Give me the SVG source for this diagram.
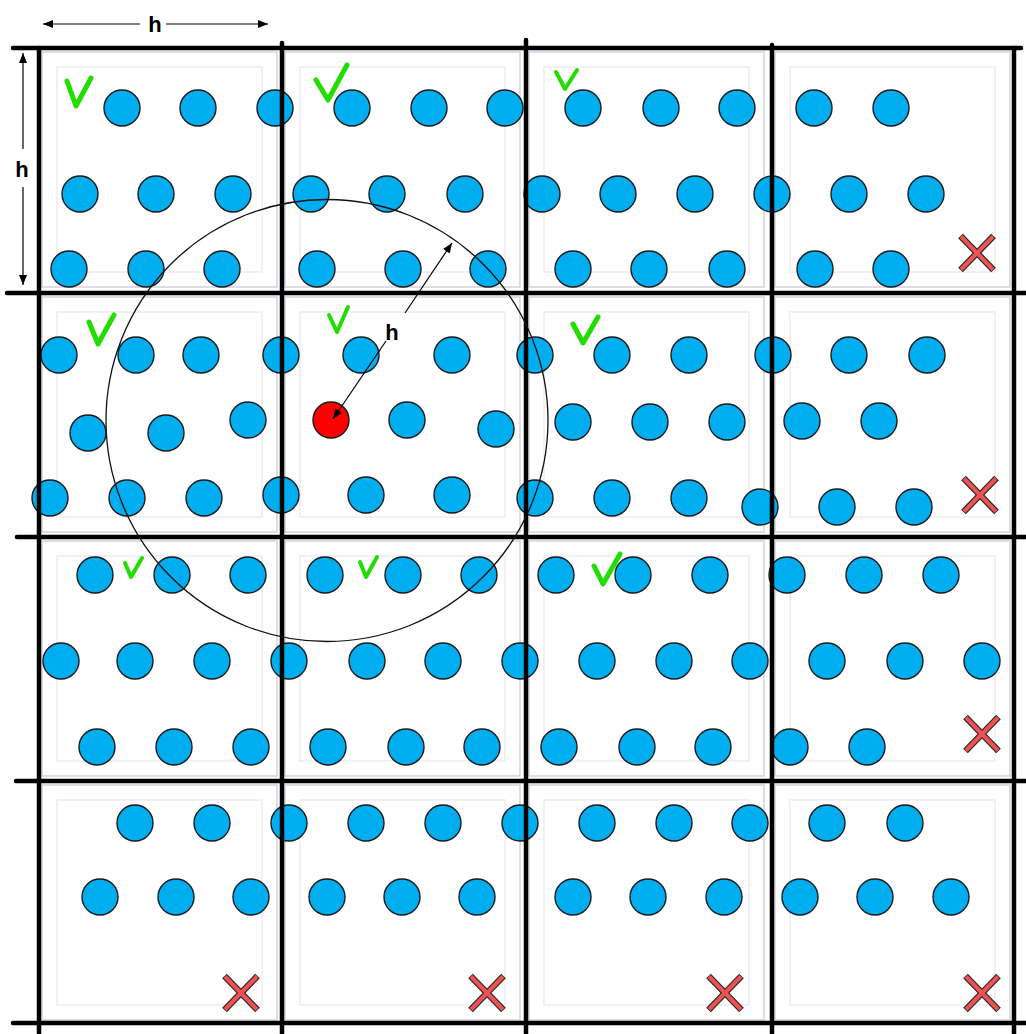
<svg xmlns="http://www.w3.org/2000/svg" xmlns:xlink="http://www.w3.org/1999/xlink" width="1026" height="1034" viewBox="0 0 1026 1034">
<style>
.cell{fill:none;stroke:#d2d2da;stroke-width:1.5}
.inner{fill:none;stroke:#ececf2;stroke-width:1.5}
.p{fill:#00aeef;stroke:#1a1a1a;stroke-width:1.4}
.red{fill:#ff0000;stroke:#1a1a1a;stroke-width:1.4}
.grid{stroke:#000;stroke-width:4.5;stroke-linecap:round;fill:none}
.ring{fill:none;stroke:#111;stroke-width:1.3}
.dim{stroke:#000;stroke-width:1.2;fill:none}
.chk{fill:none;stroke:#22dd00;stroke-width:5;stroke-linecap:round;stroke-linejoin:round}
.chks{fill:none;stroke:#22dd00;stroke-width:4;stroke-linecap:round;stroke-linejoin:round}
.lbl{font-family:"Liberation Sans",Arial,sans-serif;font-weight:bold;font-size:22px;fill:#000;text-anchor:middle}
.xo{stroke:#2a2a2a;stroke-width:6.5;stroke-linecap:butt}
.xi{stroke:#ee5252;stroke-width:4;stroke-linecap:butt}
</style>
<defs>
<marker id="ah" viewBox="0 0 10 8" refX="10" refY="4" markerWidth="10" markerHeight="8" markerUnits="userSpaceOnUse" orient="auto-start-reverse">
<path d="M0,0 L10,4 L0,8 z" fill="#000"/>
</marker>
<g id="xm">
<line class="xo" x1="-16.5" y1="-17" x2="16.5" y2="17"/>
<line class="xo" x1="-16.5" y1="17" x2="16.5" y2="-17"/>
<line class="xi" x1="-16" y1="-16.5" x2="16" y2="16.5"/>
<line class="xi" x1="-16" y1="16.5" x2="16" y2="-16.5"/>
</g>
</defs>
<rect width="1026" height="1034" fill="#fff"/>

<g id="cells">
<rect class="cell" x="42" y="52" width="235" height="235"/><rect class="inner" x="57" y="67" width="205" height="205"/>
<rect class="cell" x="285" y="52" width="235" height="235"/><rect class="inner" x="300" y="67" width="205" height="205"/>
<rect class="cell" x="529" y="52" width="235" height="235"/><rect class="inner" x="544" y="67" width="205" height="205"/>
<rect class="cell" x="775" y="52" width="235" height="235"/><rect class="inner" x="790" y="67" width="205" height="205"/>
<rect class="cell" x="42" y="297" width="235" height="235"/><rect class="inner" x="57" y="312" width="205" height="205"/>
<rect class="cell" x="285" y="297" width="235" height="235"/><rect class="inner" x="300" y="312" width="205" height="205"/>
<rect class="cell" x="529" y="297" width="235" height="235"/><rect class="inner" x="544" y="312" width="205" height="205"/>
<rect class="cell" x="775" y="297" width="235" height="235"/><rect class="inner" x="790" y="312" width="205" height="205"/>
<rect class="cell" x="42" y="541" width="235" height="235"/><rect class="inner" x="57" y="556" width="205" height="205"/>
<rect class="cell" x="285" y="541" width="235" height="235"/><rect class="inner" x="300" y="556" width="205" height="205"/>
<rect class="cell" x="529" y="541" width="235" height="235"/><rect class="inner" x="544" y="556" width="205" height="205"/>
<rect class="cell" x="775" y="541" width="235" height="235"/><rect class="inner" x="790" y="556" width="205" height="205"/>
<rect class="cell" x="42" y="785" width="235" height="235"/><rect class="inner" x="57" y="800" width="205" height="205"/>
<rect class="cell" x="285" y="785" width="235" height="235"/><rect class="inner" x="300" y="800" width="205" height="205"/>
<rect class="cell" x="529" y="785" width="235" height="235"/><rect class="inner" x="544" y="800" width="205" height="205"/>
<rect class="cell" x="775" y="785" width="235" height="235"/><rect class="inner" x="790" y="800" width="205" height="205"/>
</g>

<g id="particles-row1">
<circle class="p" cx="122" cy="108" r="18"/><circle class="p" cx="198" cy="108" r="18"/><circle class="p" cx="275" cy="108" r="18"/><circle class="p" cx="352" cy="108" r="18"/><circle class="p" cx="429" cy="108" r="18"/><circle class="p" cx="505" cy="108" r="18"/><circle class="p" cx="583" cy="108" r="18"/><circle class="p" cx="661" cy="108" r="18"/><circle class="p" cx="737" cy="108" r="18"/><circle class="p" cx="814" cy="108" r="18"/><circle class="p" cx="891" cy="108" r="18"/>
<circle class="p" cx="80" cy="194" r="18"/><circle class="p" cx="156" cy="194" r="18"/><circle class="p" cx="233" cy="194" r="18"/><circle class="p" cx="311" cy="194" r="18"/><circle class="p" cx="387" cy="194" r="18"/><circle class="p" cx="465" cy="194" r="18"/><circle class="p" cx="542" cy="194" r="18"/><circle class="p" cx="618" cy="194" r="18"/><circle class="p" cx="695" cy="194" r="18"/><circle class="p" cx="772" cy="194" r="18"/><circle class="p" cx="849" cy="194" r="18"/><circle class="p" cx="926" cy="194" r="18"/>
<circle class="p" cx="69" cy="269" r="18"/><circle class="p" cx="146" cy="269" r="18"/><circle class="p" cx="222" cy="269" r="18"/><circle class="p" cx="317" cy="269" r="18"/><circle class="p" cx="403" cy="269" r="18"/><circle class="p" cx="488" cy="269" r="18"/><circle class="p" cx="573" cy="269" r="18"/><circle class="p" cx="649" cy="269" r="18"/><circle class="p" cx="727" cy="269" r="18"/><circle class="p" cx="815" cy="269" r="18"/><circle class="p" cx="891" cy="269" r="18"/>
</g>
<g id="particles-row2">
<circle class="p" cx="59" cy="355" r="18"/><circle class="p" cx="136" cy="355" r="18"/><circle class="p" cx="201" cy="355" r="18"/><circle class="p" cx="281" cy="355" r="18"/><circle class="p" cx="361" cy="355" r="18"/><circle class="p" cx="452" cy="355" r="18"/><circle class="p" cx="535" cy="355" r="18"/><circle class="p" cx="612" cy="355" r="18"/><circle class="p" cx="689" cy="355" r="18"/><circle class="p" cx="773" cy="355" r="18"/><circle class="p" cx="849" cy="355" r="18"/><circle class="p" cx="927" cy="355" r="18"/>
<circle class="p" cx="88" cy="433" r="18"/><circle class="p" cx="166" cy="433" r="18"/><circle class="p" cx="248" cy="420" r="18"/><circle class="p" cx="407" cy="420" r="18"/><circle class="p" cx="496" cy="429" r="18"/><circle class="p" cx="573" cy="422" r="18"/><circle class="p" cx="650" cy="422" r="18"/><circle class="p" cx="727" cy="422" r="18"/><circle class="p" cx="802" cy="421" r="18"/><circle class="p" cx="879" cy="421" r="18"/>
<circle class="p" cx="50" cy="498" r="18"/><circle class="p" cx="127" cy="498" r="18"/><circle class="p" cx="204" cy="498" r="18"/><circle class="p" cx="281" cy="495" r="18"/><circle class="p" cx="366" cy="495" r="18"/><circle class="p" cx="452" cy="495" r="18"/><circle class="p" cx="535" cy="498" r="18"/><circle class="p" cx="612" cy="498" r="18"/><circle class="p" cx="689" cy="498" r="18"/><circle class="p" cx="760" cy="507" r="18"/><circle class="p" cx="837" cy="507" r="18"/><circle class="p" cx="914" cy="507" r="18"/>
</g>
<g id="particle-target">
<circle class="red" cx="331" cy="420" r="18"/>
</g>
<g id="particles-row3">
<circle class="p" cx="95" cy="575" r="18"/><circle class="p" cx="172" cy="575" r="18"/><circle class="p" cx="248" cy="575" r="18"/><circle class="p" cx="325" cy="575" r="18"/><circle class="p" cx="403" cy="575" r="18"/><circle class="p" cx="479" cy="575" r="18"/><circle class="p" cx="556" cy="575" r="18"/><circle class="p" cx="633" cy="575" r="18"/><circle class="p" cx="710" cy="575" r="18"/><circle class="p" cx="787" cy="575" r="18"/><circle class="p" cx="864" cy="575" r="18"/><circle class="p" cx="941" cy="575" r="18"/>
<circle class="p" cx="61" cy="661" r="18"/><circle class="p" cx="135" cy="661" r="18"/><circle class="p" cx="212" cy="661" r="18"/><circle class="p" cx="289" cy="661" r="18"/><circle class="p" cx="367" cy="661" r="18"/><circle class="p" cx="443" cy="661" r="18"/><circle class="p" cx="520" cy="661" r="18"/><circle class="p" cx="597" cy="661" r="18"/><circle class="p" cx="674" cy="661" r="18"/><circle class="p" cx="750" cy="661" r="18"/><circle class="p" cx="827" cy="661" r="18"/><circle class="p" cx="905" cy="661" r="18"/><circle class="p" cx="982" cy="661" r="18"/>
<circle class="p" cx="97" cy="747" r="18"/><circle class="p" cx="174" cy="747" r="18"/><circle class="p" cx="251" cy="747" r="18"/><circle class="p" cx="328" cy="747" r="18"/><circle class="p" cx="406" cy="747" r="18"/><circle class="p" cx="482" cy="747" r="18"/><circle class="p" cx="559" cy="747" r="18"/><circle class="p" cx="637" cy="747" r="18"/><circle class="p" cx="713" cy="747" r="18"/><circle class="p" cx="790" cy="747" r="18"/><circle class="p" cx="867" cy="747" r="18"/>
</g>
<g id="particles-row4">
<circle class="p" cx="135" cy="823" r="18"/><circle class="p" cx="212" cy="823" r="18"/><circle class="p" cx="289" cy="823" r="18"/><circle class="p" cx="366" cy="823" r="18"/><circle class="p" cx="443" cy="823" r="18"/><circle class="p" cx="520" cy="823" r="18"/><circle class="p" cx="597" cy="823" r="18"/><circle class="p" cx="674" cy="823" r="18"/><circle class="p" cx="750" cy="823" r="18"/><circle class="p" cx="827" cy="823" r="18"/><circle class="p" cx="905" cy="823" r="18"/>
<circle class="p" cx="100" cy="897" r="18"/><circle class="p" cx="176" cy="897" r="18"/><circle class="p" cx="251" cy="897" r="18"/><circle class="p" cx="327" cy="897" r="18"/><circle class="p" cx="402" cy="897" r="18"/><circle class="p" cx="477" cy="897" r="18"/><circle class="p" cx="573" cy="897" r="18"/><circle class="p" cx="648" cy="897" r="18"/><circle class="p" cx="724" cy="897" r="18"/><circle class="p" cx="800" cy="897" r="18"/><circle class="p" cx="875" cy="897" r="18"/><circle class="p" cx="951" cy="897" r="18"/>
</g>

<g id="grid">
<line class="grid" x1="13" y1="48" x2="1021" y2="48"/>
<line class="grid" x1="7" y1="293" x2="1030" y2="293"/>
<line class="grid" x1="17" y1="537" x2="1030" y2="537"/>
<line class="grid" x1="16" y1="781" x2="1030" y2="781"/>
<line class="grid" x1="13" y1="1023" x2="1030" y2="1023"/>
<line class="grid" x1="39" y1="48" x2="39" y2="1040"/>
<line class="grid" x1="282" y1="43" x2="282" y2="1040"/>
<line class="grid" x1="526" y1="40" x2="526" y2="1040"/>
<line class="grid" x1="772" y1="45" x2="772" y2="1040"/>
<line class="grid" x1="1014" y1="48" x2="1014" y2="1040"/>
</g>

<g id="radius-circle">
<circle class="ring" cx="327" cy="420.5" r="221"/>
</g>

<g id="checks">
<polyline class="chk" points="67,81 76,106 91,78"/>
<polyline class="chk" points="316,80 328,100 347,65"/>
<polyline class="chks" points="556,72 565,89 577,70"/>
<polyline class="chk" points="89,322 98,344 114,315"/>
<polyline class="chks" points="329,315 337,332 348,307"/>
<polyline class="chk" points="573,324 583,343 598,317"/>
<polyline class="chks" points="125,563 131,577 142,558"/>
<polyline class="chks" points="360,562 366,577 377,557"/>
<polyline class="chk" points="594,566 603,584 620,554"/>
</g>

<g id="crosses">
<use xlink:href="#xm" x="977" y="253"/>
<use xlink:href="#xm" x="980" y="495"/>
<use xlink:href="#xm" x="982" y="734"/>
<use xlink:href="#xm" x="241" y="993"/>
<use xlink:href="#xm" x="487" y="993"/>
<use xlink:href="#xm" x="725" y="993"/>
<use xlink:href="#xm" x="982" y="993"/>
</g>

<g id="connectors">
<line class="dim" x1="140" y1="24" x2="43" y2="24" marker-end="url(#ah)"/>
<line class="dim" x1="166" y1="24" x2="268" y2="24" marker-end="url(#ah)"/>
<line class="dim" x1="23" y1="149" x2="23" y2="53" marker-end="url(#ah)"/>
<line class="dim" x1="23" y1="187" x2="23" y2="285" marker-end="url(#ah)"/>
<line class="dim" x1="405" y1="313" x2="452" y2="243" marker-end="url(#ah)"/>
<line class="dim" x1="386" y1="341" x2="333" y2="419" marker-end="url(#ah)"/>
</g>

<g id="labels">
<text class="lbl" x="155" y="32">h</text>
<text class="lbl" x="22" y="177">h</text>
<text class="lbl" x="392" y="340">h</text>
</g>
</svg>
